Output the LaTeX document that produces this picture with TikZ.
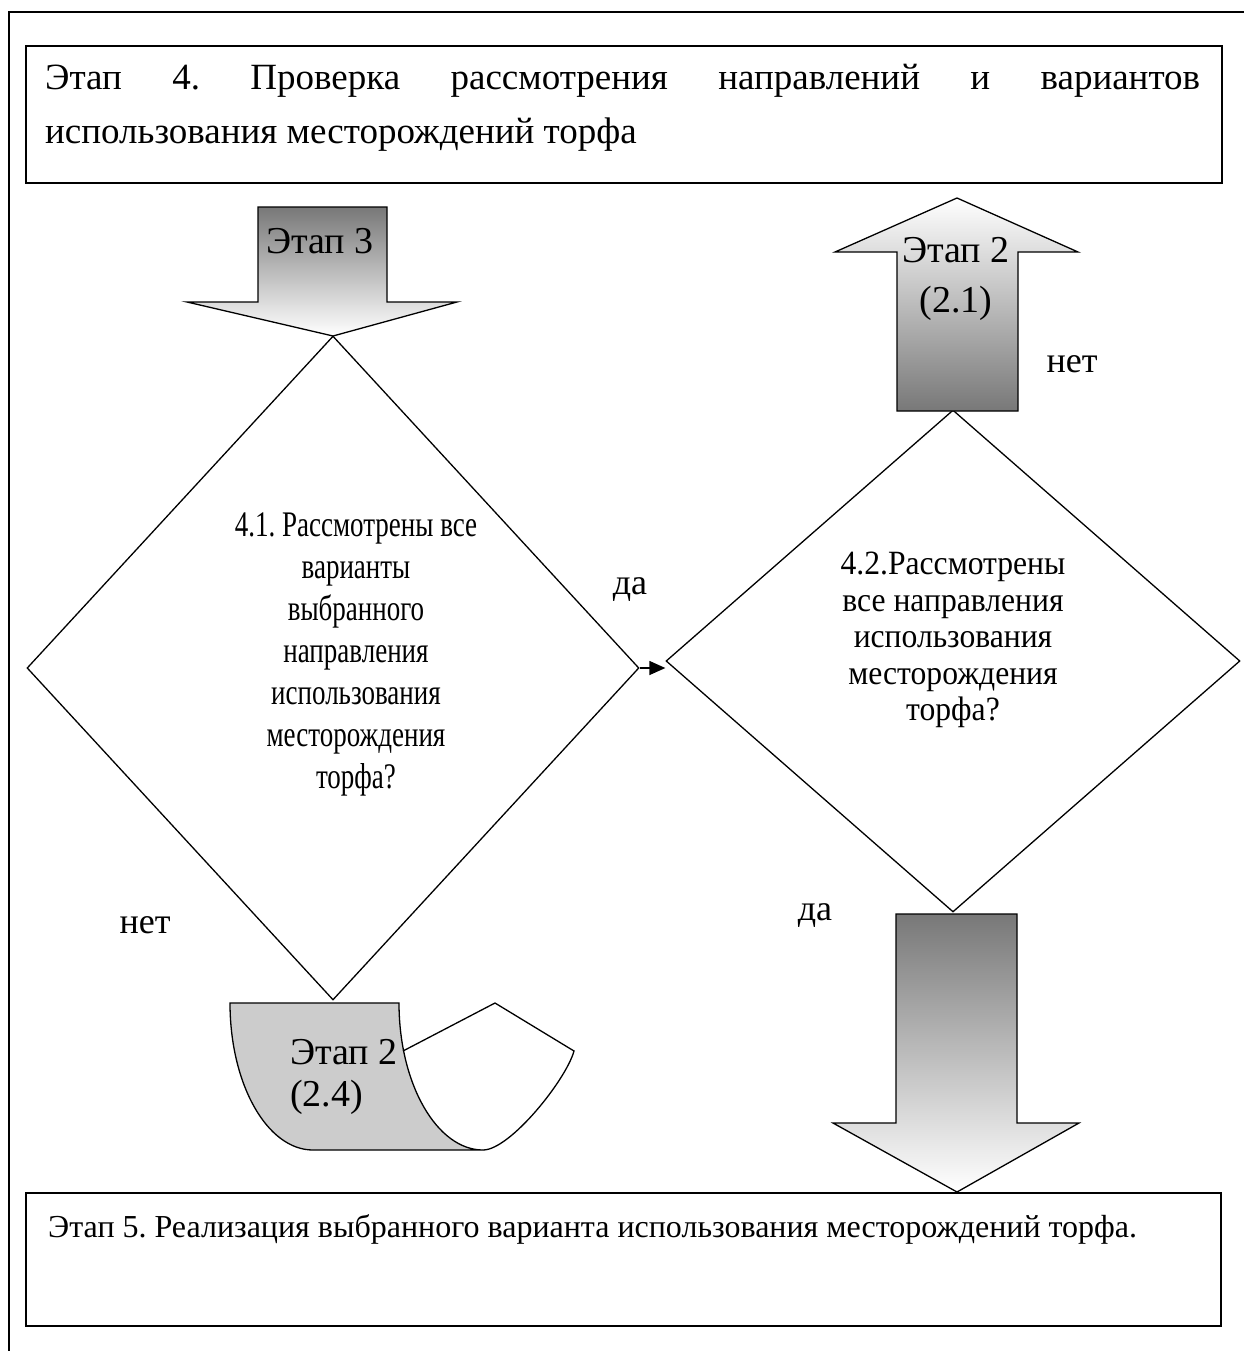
\documentclass[tikz,border=0pt]{standalone}
\usepackage{fontspec}
\setmainfont{Liberation Serif}
\newfontfamily\narrowfont[FakeStretch=0.75]{Liberation Serif}
\newfontfamily\slimfont[FakeStretch=0.93]{Liberation Serif}
\usetikzlibrary{shapes.geometric,arrows.meta,positioning}
\frenchspacing

\begin{document}
\begin{tikzpicture}[x=1pt,y=-1pt,
  box/.style={draw,line width=1.6pt},
  decision/.style={diamond,draw,line width=1.3pt,inner sep=0pt},
  blockarrow/.style={draw,line width=1.3pt},
  txt/.style={inner sep=0pt,font=\fontsize{36}{40}\selectfont}]
\useasboundingbox (0,0) rectangle (1244,1351);
% outer frame
\draw[line width=1.4pt] (9,1351) -- (9,12) -- (1244,12);

% stage boxes
\node[box,anchor=north west,minimum width=1196pt,minimum height=137pt] (stage4) at (25,45) {};
\node[inner sep=0pt,anchor=north west,text width=1155pt,align=justify,font=\fontsize{37}{54}\selectfont] (stage4txt) at (45,64)
  {Этап 4. Проверка рассмотрения направлений и вариантов\linebreak использования месторождений торфа};
\node[box,anchor=north west,minimum width=1195pt,minimum height=133pt] (stage5) at (25,1192) {};
\node[inner sep=0pt,anchor=base west,font=\fontsize{32}{36}\selectfont] (stage5txt) at (48,1237)
  {Этап 5. Реализация выбранного варианта использования месторождений торфа.};

% decisions
\node[decision,minimum width=612pt,minimum height=664pt] (q1) at (333,668) {};
\node[txt,align=center,font=\narrowfont\fontsize{36}{42}\selectfont] (q1txt) at (356,654)
  {4.1. Рассмотрены все\\ варианты\\ выбранного\\ направления\\ использования\\ месторождения\\ торфа?};
\node[decision,minimum width=574pt,minimum height=502pt] (q2) at (953,661) {};
\node[txt,align=center,font=\slimfont\fontsize{34}{36.5}\selectfont] (q2txt) at (953,640)
  {4.2.Рассмотрены\\ все направления\\ использования\\ месторождения\\ торфа?};
\draw[line width=1.3pt,-{Triangle[length=16pt,width=14pt]}] (q1.east) -- (q1.east -| q2.west);

% block arrows
\draw[blockarrow,top color=black!53,bottom color=white]
  (258,207) -- (387,207) -- (387,302) -- (457,302) -- (333,336) -- (187,302) -- (258,302) -- cycle;
\node[txt,anchor=base,font=\fontsize{38}{40}\selectfont] (stage3) at (320,253) {Этап 3};
\draw[blockarrow,top color=white,bottom color=black!53]
  (957,198) -- (1078,252) -- (1018,252) -- (1018,411) -- (897,411) -- (897,252) -- (835,252) -- cycle;
\node[txt,align=center,font=\fontsize{38}{50}\selectfont] (stage21) at (956,279) {Этап 2\\ (2.1)};
\draw[blockarrow,top color=black!53,bottom color=white]
  (896,914) -- (1017,914) -- (1017,1123) -- (1079,1123) -- (957,1192) -- (833,1123) -- (896,1123) -- cycle;

% curled sheet
\draw[blockarrow,fill=black!20] (230,1003) -- (399,1003) .. controls (399,1084) and (437,1150) .. (483,1150)
  -- (313,1150) .. controls (267,1150) and (230,1084) .. (230,1003) -- cycle;
\draw[blockarrow] (403,1051) -- (495,1003) -- (574,1051) .. controls (566,1080) and (510,1150) .. (483,1150);
\node[txt,align=left,anchor=north west,font=\fontsize{38}{42}\selectfont] (stage24) at (290,1039) {Этап 2\\ (2.4)};

% labels
\node[txt,anchor=base] (yes1) at (630,594) {да};
\node[txt,anchor=base] (no1) at (145,933) {нет};
\node[txt,anchor=base] (yes2) at (815,920) {да};
\node[txt,anchor=base] (no2) at (1072,372) {нет};
\end{tikzpicture}
\end{document}
